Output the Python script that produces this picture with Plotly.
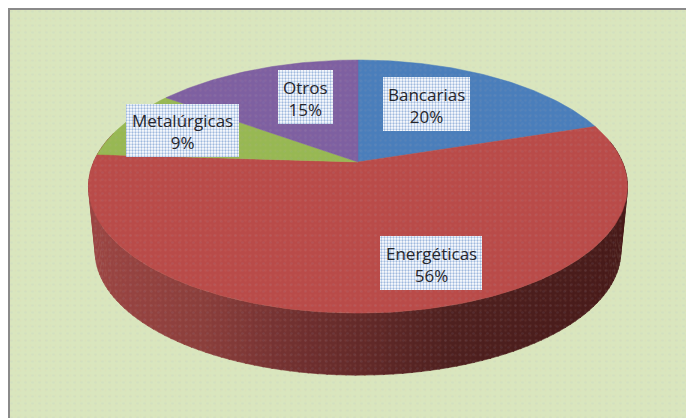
import numpy as np
import plotly.graph_objects as go

categories = ["Bancarias", "Energéticas", "Metalúrgicas", "Otros"]
values = [20, 56, 9, 15]
colors = ["#4a7ebb", "#b94b49", "#97b853", "#7e60a1"]
label_boxes = [(383, 470, 77, 131), (380, 482, 236, 290), (126, 239, 104, 157), (278, 333, 70, 124)]

APEX_X, APEX_Y = 358.0, 162.0
K, A, B = 0.194, 121.8, 264.4
DEPTH = 62.0
BOTTOM_SCALE = 0.975
WALL_STOPS = [(88, "#9c4644"), (200, "#8b3f3c"), (300, "#703030"), (358, "#642b2a"),
              (450, "#4f2120"), (627, "#481b1a")]
# the page's default 8 px body margin supplies the white strip at top and left
PAGE_MARGIN = 8


def project(theta):
    X, Y = np.sin(theta), np.cos(theta)
    d = 1 + K * Y
    return APEX_X + B * X / d, APEX_Y - A * Y / d


def hex_rgb(h):
    return np.array([int(h[i:i + 2], 16) for i in (1, 3, 5)], float)


def wall_color(x):
    xs = [s[0] for s in WALL_STOPS]
    rgb = [np.interp(x, xs, [hex_rgb(s[1])[c] for s in WALL_STOPS]) for c in range(3)]
    return "rgb(%d,%d,%d)" % tuple(rgb)


fig = go.Figure()

# side wall
ts = np.radians(np.linspace(80, 284, 121))
ellipse_cy = 186.0


def lower(x, y):
    return APEX_X + (x - APEX_X) * BOTTOM_SCALE, ellipse_cy + (y - ellipse_cy) * BOTTOM_SCALE + DEPTH + 3.2


for a, b in zip(ts[:-1], ts[1:]):
    m = np.linspace(a, b + 0.005, 4)
    x, y = project(m)
    lx, ly = lower(x, y)
    fig.add_trace(go.Scatter(x=list(x) + list(lx[::-1]), y=list(y) + list(ly[::-1]), mode="lines",
                             fill="toself", fillcolor=wall_color(float(x.mean())),
                             line=dict(width=0.6, color=wall_color(float(x.mean()))),
                             hoverinfo="skip", showlegend=False))

# top face slices, drawn from the values
total = sum(values)
start = 0.0
for cat, val, col in zip(categories, values, colors):
    end = start + val / total * 2 * np.pi
    th = np.linspace(start, end, max(int(val * 4), 12))
    x, y = project(th)
    fig.add_trace(go.Scatter(x=[APEX_X] + list(x) + [APEX_X], y=[APEX_Y] + list(y) + [APEX_Y],
                             mode="lines", fill="toself", fillcolor=col, line=dict(width=0.5, color=col),
                             name=cat, hoverinfo="skip", showlegend=False))
    start = end

# fine dotted texture over the whole picture
for fg, size, sol in [("rgba(240,180,140,0.16)", 5, 0.16), ("rgba(160,165,205,0.18)", 7, 0.12)]:
    fig.add_trace(go.Bar(x=[352], y=[409], base=[9], width=[685],
                         xaxis="x2", yaxis="y2",
                         marker=dict(color="rgba(0,0,0,0)", line=dict(width=0),
                                     pattern=dict(shape=".", fgcolor=fg, size=size, solidity=sol,
                                                  bgcolor="rgba(0,0,0,0)")),
                         hoverinfo="skip", showlegend=False))

# label boxes with dotted fill, on a further overlay so they sit above the texture
for x0, x1, y0, y1 in label_boxes:
    fig.add_trace(go.Bar(x=[(x0 + x1) / 2], y=[y1 - y0], base=[y0], width=[x1 - x0],
                         xaxis="x3", yaxis="y3",
                         marker=dict(color="#ffffff", line=dict(width=0),
                                     pattern=dict(shape=".", fgcolor="#3f74bd", bgcolor="#ffffff",
                                                  size=3, solidity=0.45)),
                         hoverinfo="skip", showlegend=False))

for cat, val, (x0, x1, y0, y1) in zip(categories, values, label_boxes):
    fig.add_annotation(x=(x0 + x1) / 2, y=(y0 + y1) / 2 + 1, xref="x3", yref="y3",
                       text=f"{cat}<br>{val}%", showarrow=False, align="center",
                       font=dict(family="Open Sans", size=17, color="#26262c"))

axis = dict(visible=False, fixedrange=True)
xr = [PAGE_MARGIN, 694]
yr = [418, PAGE_MARGIN]
fig.update_layout(
    width=694 - PAGE_MARGIN, height=418 - PAGE_MARGIN, margin=dict(l=0, r=0, t=0, b=0, pad=0),
    paper_bgcolor="white", plot_bgcolor="#d9e6be", barmode="overlay", showlegend=False,
    xaxis=dict(range=xr, **axis), yaxis=dict(range=yr, **axis),
    xaxis2=dict(range=xr, overlaying="x", **axis), yaxis2=dict(range=yr, overlaying="y", **axis),
    xaxis3=dict(range=xr, overlaying="x", **axis), yaxis3=dict(range=yr, overlaying="y", **axis),
    shapes=[
        dict(type="line", xref="x", yref="y", x0=9, x1=9, y0=8, y1=418, line=dict(color="#8a8a8a", width=2)),
        dict(type="line", xref="x", yref="y", x0=8, x1=694, y0=9, y1=9, line=dict(color="#8a8a8a", width=2)),
    ],
)
fig.write_html("out.html")
